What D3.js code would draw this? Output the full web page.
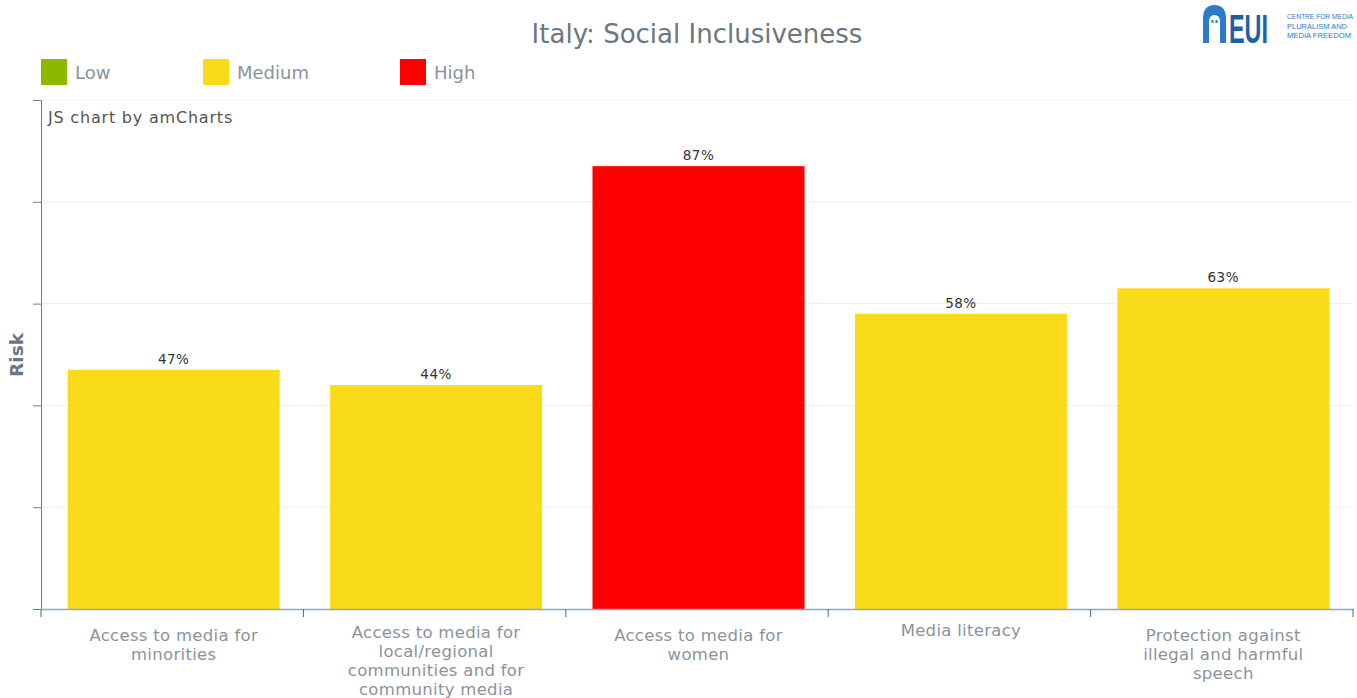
<!DOCTYPE html>
<html><head><meta charset="utf-8">
<script src="https://cdn.jsdelivr.net/npm/d3@7"></script>
<style>body{margin:0;background:#fff;}svg{display:block;font-family:"DejaVu Sans",Verdana,sans-serif;}</style>
</head><body><svg id="c" width="1357" height="698"></svg>
<script>
const categories = ["Access to media for minorities","Access to media for local/regional communities and for community media","Access to media for women","Media literacy","Protection against illegal and harmful speech"];
const values = [47,44,87,58,63];
const riskLevels = ["Medium","Medium","High","Medium","Medium"];
const legendLabels = ["Low","Medium","High"];
const legendColors = ["#8db800","#fadb19","#ff0000"];
const yTicks = [0,20,40,60,80,100];

const svg = d3.select("#c");
const m = {left:41, right:1353, top:100, bottom:609};
const x = d3.scaleBand().domain(categories).range([m.left,m.right]).paddingInner(0.192).paddingOuter(0.096);
const xTicks = d3.scaleBand().domain(categories).range([m.left,m.right]);
const y = d3.scaleLinear().domain([0,100]).range([m.bottom,m.top]);
const color = d3.scaleOrdinal().domain(legendLabels).range(legendColors);

// gridlines
svg.append("g").selectAll("line").data(yTicks.slice(1)).join("line")
  .attr("x1",m.left).attr("x2",m.right).attr("y1",d=>y(d)).attr("y2",d=>y(d))
  .attr("stroke","#eeeeee").attr("stroke-width",1);

// bars
const barG = svg.append("g").attr("transform","translate(1.5,0)");
barG.selectAll("rect").data(categories).join("rect")
  .attr("x",d=>x(d)).attr("width",x.bandwidth())
  .attr("y",(d,i)=>y(values[i])).attr("height",(d,i)=>y(0)-y(values[i]))
  .attr("fill",(d,i)=>color(riskLevels[i]));

// value labels
barG.selectAll("text").data(categories).join("text")
  .attr("x",d=>x(d)+x.bandwidth()/2).attr("y",(d,i)=>y(values[i])-6)
  .attr("text-anchor","middle").attr("font-size",13.5).attr("letter-spacing",0.5).attr("fill","#333")
  .text((d,i)=>values[i]+"%");

// y axis
const ya = svg.append("g").attr("transform",`translate(${m.left},0)`)
  .call(d3.axisLeft(y).tickValues(yTicks).tickFormat("").tickSize(8).tickSizeOuter(0));
ya.select(".domain").attr("stroke","#6f7d88");
ya.selectAll(".tick line").attr("stroke","#6f7d88");

// x axis
const xa = svg.append("g").attr("transform",`translate(0,${m.bottom})`)
  .call(d3.axisBottom(xTicks).tickFormat("").tickSize(0).tickSizeOuter(0));
xa.select(".domain").attr("stroke","#8fa6b8").attr("stroke-width",1.5);
xa.selectAll(".tick").remove();
const edges = categories.map(c=>xTicks(c)).concat([m.right]);
xa.selectAll("line.edge").data(edges).join("line").attr("class","edge")
  .attr("x1",d=>d).attr("x2",d=>d).attr("y1",0).attr("y2",8).attr("stroke","#4f6a80");

// x labels with wrapping
const LS = 0.3, FS = 16.5;
function wrapLines(text, maxW, fs){
  const words=text.split(" "); const lines=[]; let cur="";
  const ctx=document.createElement("canvas").getContext("2d");
  ctx.font=`${fs}px "DejaVu Sans"`;
  const w=t=>ctx.measureText(t).width+LS*t.length;
  words.forEach(wd=>{const t=cur?cur+" "+wd:wd; if(w(t)>maxW&&cur){lines.push(cur);cur=wd;}else cur=t;});
  if(cur)lines.push(cur); return lines;
}
svg.append("g").selectAll("text").data(categories).join("text")
  .attr("text-anchor","middle").attr("font-size",FS).attr("letter-spacing",LS).attr("fill","#8a939b")
  .each(function(d,i){
    const lines=wrapLines(d,195,FS);
    const off = lines.length>=4?-3:(lines.length===1?-5:0);
    const cx = xTicks(d)+xTicks.bandwidth()/2+1.5;
    d3.select(this).selectAll("tspan").data(lines).join("tspan")
      .attr("x",cx).attr("y",(l,j)=>641+off+j*19).text(l=>l);
  });

// y title
svg.append("text").attr("transform","translate(23,355) rotate(-90)")
  .attr("text-anchor","middle").attr("font-size",18.5).attr("font-weight","bold")
  .attr("fill","#6b7680").text("Risk");

// title
svg.append("text").attr("x",697).attr("y",43).attr("text-anchor","middle")
  .attr("font-size",26).attr("fill","#6b7680").text("Italy: Social Inclusiveness");

// credit
svg.append("text").attr("x",48).attr("y",123).attr("font-size",16).attr("letter-spacing",0.8).attr("fill","#555")
  .text("JS chart by amCharts");

// legend
const legX=[41,203,400];
const lg=svg.append("g").selectAll("g").data(legendLabels).join("g")
  .attr("transform",(d,i)=>`translate(${legX[i]},59)`);
lg.append("rect").attr("width",26).attr("height",26).attr("fill",d=>color(d));
lg.append("text").attr("x",34).attr("y",20).attr("font-size",18).attr("fill","#8a939b").text(d=>d);

// logo
const logo=svg.append("g").attr("transform","translate(1203,5)");
logo.append("path").attr("d","M0,38 L0,14 Q0,0 11.5,0 Q23,0 23,14 L23,38 L17,38 L17,17 Q17,10 11.5,10 Q6,10 6,17 L6,38 Z").attr("fill","#2a7ccb");
logo.append("rect").attr("x",8.5).attr("y",15).attr("width",2).attr("height",3).attr("fill","#2a7ccb");
logo.append("rect").attr("x",12.5).attr("y",15).attr("width",2).attr("height",3).attr("fill","#2a7ccb");
logo.append("text").attr("x",26).attr("y",38).attr("font-size",40).attr("font-weight","bold")
  .attr("textLength",39).attr("lengthAdjust","spacingAndGlyphs")
  .attr("fill","#1f5fa8").attr("font-family","Liberation Sans, sans-serif").text("EUI");
[["CENTRE FOR MEDIA",66],["PLURALISM AND",60],["MEDIA FREEDOM",64]].forEach((t,i)=>{
  logo.append("text").attr("x",84).attr("y",14+i*9.5).attr("font-size",8)
    .attr("textLength",t[1]).attr("lengthAdjust","spacingAndGlyphs")
    .attr("fill","#2a7ccb").attr("font-family","Liberation Sans, sans-serif").text(t[0]);
});
</script></body></html>
